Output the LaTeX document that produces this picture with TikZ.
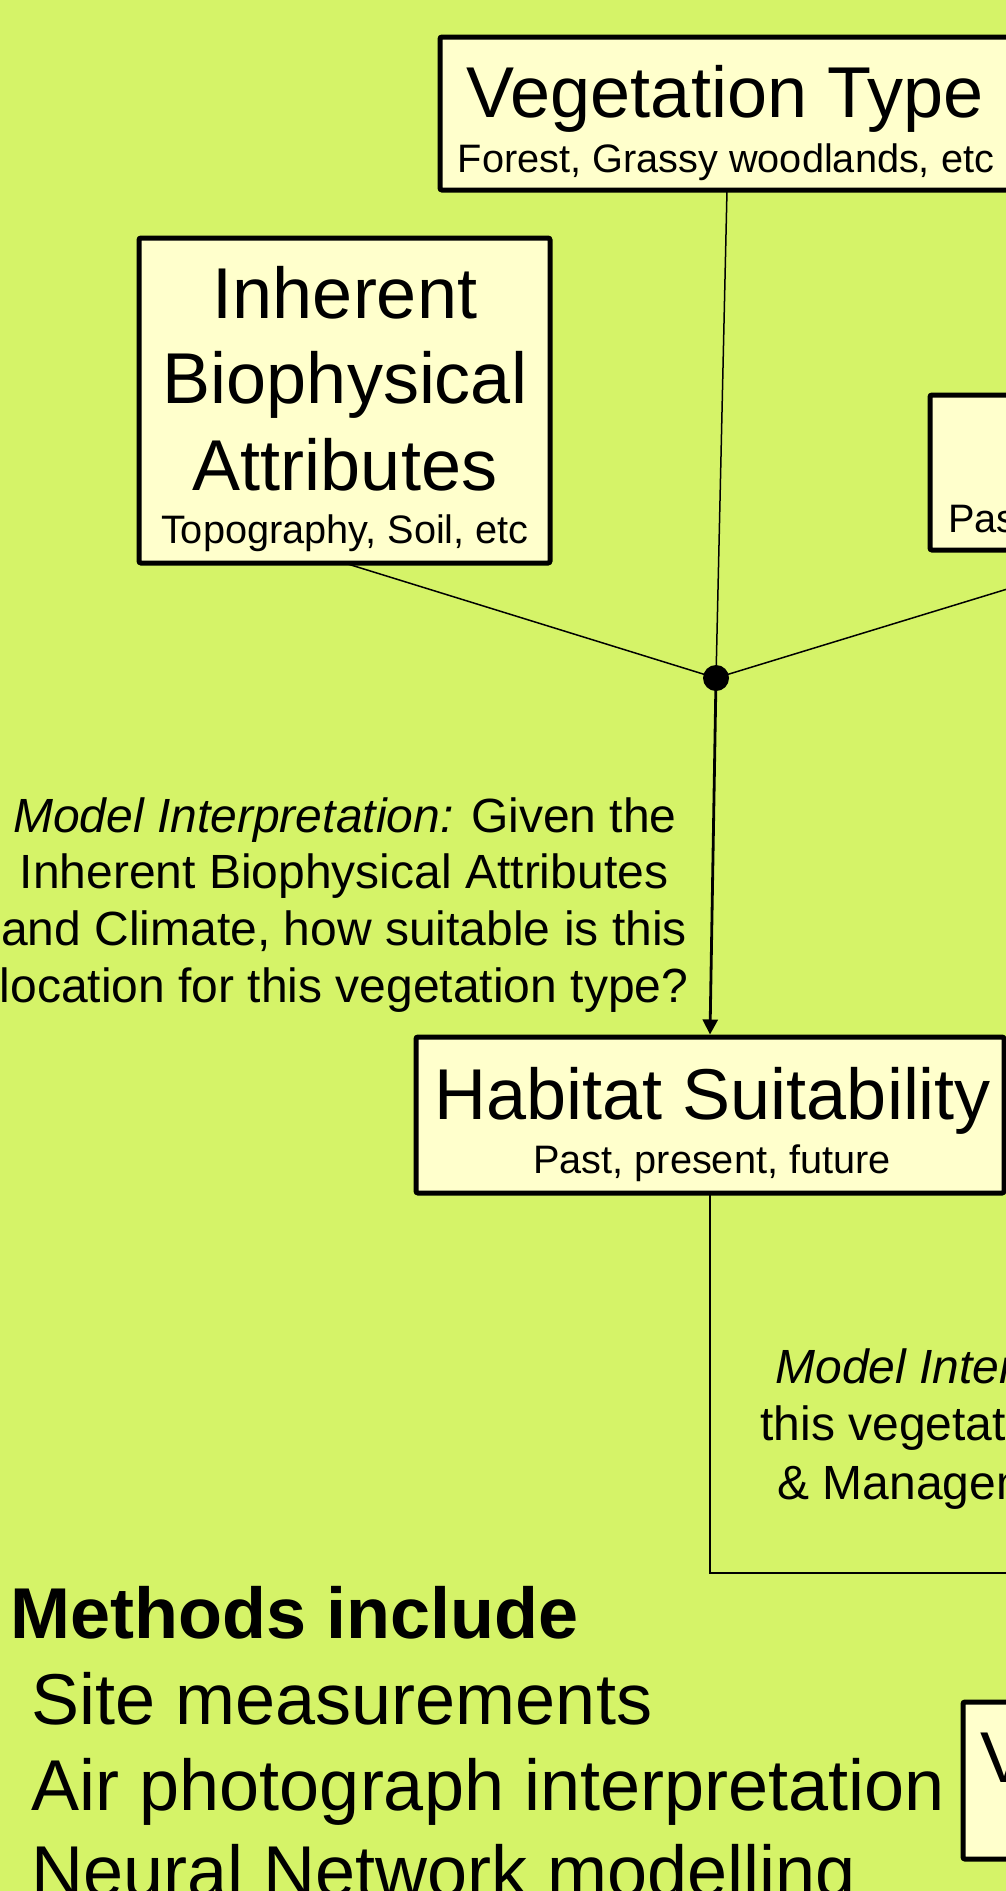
\documentclass[tikz,border=0pt]{standalone}
\usepackage{fontspec}
\setmainfont{Liberation Sans}
\usetikzlibrary{arrows.meta,calc}
\definecolor{bg}{RGB}{213,243,104}
\definecolor{boxfill}{RGB}{255,255,204}
\begin{document}
\begin{tikzpicture}[x=0.5pt,y=-0.5pt,
  box/.style={draw=black,line width=2.5pt,fill=boxfill,rounded corners=1pt,inner sep=0pt,outer sep=0pt},
  big/.style={font=\fontsize{36pt}{43pt}\selectfont,inner sep=0pt,anchor=base},
  small/.style={font=\fontsize{19.85pt}{24pt}\selectfont,inner sep=0pt,anchor=base},
  mid/.style={font=\fontsize{24pt}{28.5pt}\selectfont,inner sep=0pt,anchor=base},
  conn/.style={line width=0.75pt,draw=black},
  lbl/.style={inner sep=0pt,anchor=base west,font=\fontsize{36pt}{43pt}\selectfont}
]
\useasboundingbox (0,0) rectangle (1006,1891);
\clip (0,0) rectangle (1006,1891);
\fill[bg] (-10,-10) rectangle (1016,1901);

% boxes
\node[box,minimum width=287pt,minimum height=76.5pt] (veg) at (727,113.5) {};
\node[box,minimum width=205.5pt,minimum height=162.5pt] (inh) at (344.5,400.5) {};
\node[box,minimum width=205pt,minimum height=77.5pt] (clim) at (1135,472.5) {};
\node[box,minimum width=294pt,minimum height=78pt] (hab) at (710,1115) {};
\node[box,minimum width=217pt,minimum height=78.5pt] (vbox) at (1180,1780.5) {};

% box texts
\node[big] (vegt) at (725,117) {Vegetation Type};
\node[small] (vegs) at (726,172) {Forest, Grassy woodlands, etc};
\node[big] (inh1) at (345,318) {Inherent};
\node[big] (inh2) at (345,403) {Biophysical};
\node[big] (inh3) at (345,490) {Attributes};
\node[small] (inhs) at (345,543) {Topography, Soil, etc};
\node[small,anchor=base west] (clims) at (948,532) {Past, present, future};
\node[big] (habt) at (713,1119) {Habitat Suitability};
\node[small] (habs) at (712,1173) {Past, present, future};
\node[lbl] (vboxt) at (980,1782) {Vegetation};

% junction
\node[circle,fill=black,minimum size=13pt,inner sep=0pt] (dot) at (716,678) {};

% connectors
\draw[conn] (inh.south) -- (dot.center);
\draw[conn] (veg.south) -- (dot.center);
\draw[conn] (clim.south) -- (dot.center);
\draw[line width=1.4pt,-{Triangle[length=7.5pt,width=7.5pt]}] (dot.center) -- ($(hab.north)+(0,-2.5)$);
\coordinate (hend) at (1100,1573);
\draw[line width=1pt] (hab.south) |- (hend);

% model interpretation (left)
\node[mid] (mi1) at (345,832) {\itshape Model Interpretation:\upshape{} Given the};
\node[mid] (mi2) at (344,888) {Inherent Biophysical Attributes};
\node[mid] (mi3) at (344,945) {and Climate, how suitable is this};
\node[mid] (mi4) at (344,1002) {location for this vegetation type?};

% model interpretation (right, cut off)
\node[mid,anchor=base west] (mr1) at (775,1383) {\itshape Model Interpretation:};
\node[mid,anchor=base west] (mr2) at (760,1440) {this vegetation};
\node[mid,anchor=base west] (mr3) at (777,1499) {\& Management};

% methods
\node[lbl,font=\fontsize{36pt}{43pt}\selectfont\bfseries] (meth) at (10.5,1638) {Methods include};
\node[lbl] (m1) at (31.5,1724) {Site measurements};
\node[lbl] (m2) at (31.5,1810) {Air photograph interpretation};
\node[lbl] (m3) at (31.5,1896) {Neural Network modelling};
\end{tikzpicture}
\end{document}
